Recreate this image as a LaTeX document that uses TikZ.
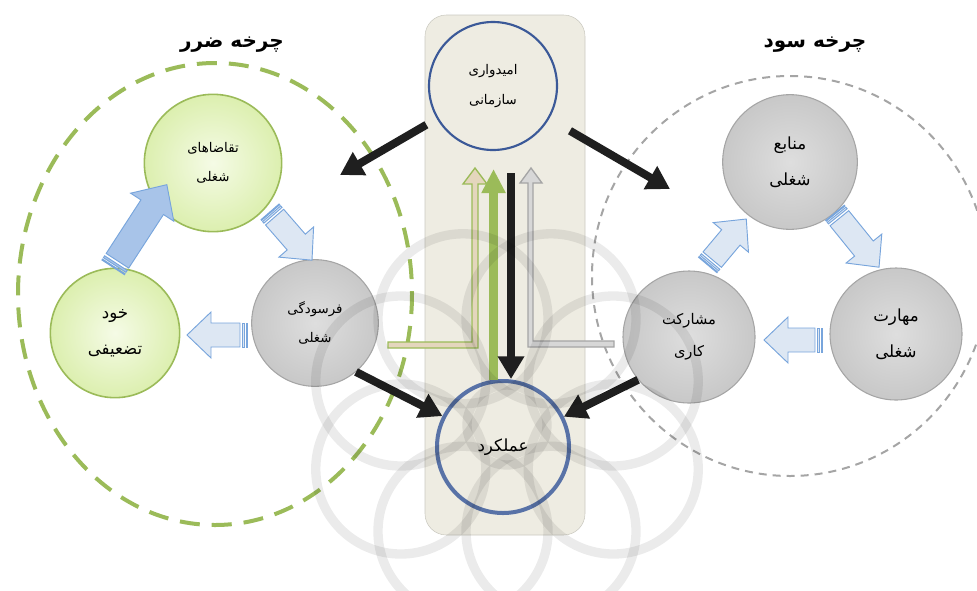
\documentclass[tikz,border=0pt]{standalone}
\usepackage{fontspec}
\usepackage{tikz}
\usetikzlibrary{arrows.meta}
\newfontfamily\farsi[Script=Arabic]{DejaVu Sans}
\TeXXeTstate=1
\newcommand{\fa}[1]{\beginR #1\endR}
\definecolor{cgreen}{RGB}{155,187,89}
\definecolor{cgreenfill}{RGB}{220,239,175}
\definecolor{cgreenlight}{RGB}{245,251,230}
\definecolor{cgrey}{RGB}{165,165,165}
\definecolor{cgreyfill}{RGB}{200,200,200}
\definecolor{cgreylight}{RGB}{222,222,222}
\definecolor{cblue}{RGB}{59,89,152}
\definecolor{cbeige}{RGB}{238,236,226}
\definecolor{cflow}{RGB}{120,165,220}
\definecolor{cflowfill}{RGB}{221,231,243}
\definecolor{cflowdark}{RGB}{168,196,233}
\tikzstyle{circ} = [circle, inner sep=0pt, align=center]
\tikzstyle{loss} = [circ, draw=cgreen, line width=1.2pt, inner color=cgreenlight, outer color=cgreenfill]
\tikzstyle{gain} = [circ, draw=cgrey, line width=0.8pt, inner color=cgreylight, outer color=cgreyfill]
\tikzstyle{core} = [circ, draw=cblue, fill=cbeige]
\tikzstyle{txtsmall} = [font=\farsi\fontsize{10}{22}\selectfont]
\tikzstyle{txtmid} = [font=\farsi\fontsize{11}{24}\selectfont]
\tikzstyle{txtbig} = [font=\farsi\fontsize{12.5}{27}\selectfont]
\tikzstyle{title} = [font=\farsi\bfseries\fontsize{15}{18}\selectfont]
\tikzstyle{blackarr} = [line width=6pt, -{Triangle[length=17pt,width=19pt]}, black!88]
\tikzstyle{greenarr} = [line width=6.5pt, -{Triangle[length=18pt,width=17pt]}, cgreen]
\tikzstyle{flowlight} = [draw=cflow, line width=0.7pt, fill=cflowfill]
\tikzstyle{flowdark} = [draw=cflow, line width=0.7pt, fill=cflowdark]
\tikzset{
  pics/flowarr/.style={code={
    \draw[pic actions](-#1/2+7,-12)--(#1/2-24,-12)--(#1/2-24,-23)--(#1/2,0)--(#1/2-24,23)--(#1/2-24,12)--(-#1/2+7,12)--cycle;
    \draw[pic actions](-#1/2+2.5,-12) rectangle (-#1/2+4.5,12);
    \draw[pic actions](-#1/2,-12) rectangle (-#1/2+1,12);
  }}
}

\begin{document}
\begin{tikzpicture}[x=0.75pt,y=-0.75pt]
    \useasboundingbox (0,0) rectangle (977,590);
    % middle column
    \draw[draw=cbeige!85!black, fill=cbeige, rounded corners=16pt] (425,15) rectangle (585,535);
    % the two cycles
    \draw[cgreen, line width=3pt, dash pattern=on 15pt off 9pt] (215,294) ellipse [x radius=197, y radius=231];
    \draw[cgrey, line width=1.5pt, dash pattern=on 6pt off 4.5pt] (790,276) ellipse [x radius=198, y radius=200];
    \node[title](tloss) at (232,45){\fa{چرخه ضرر}};
    \node[title](tgain) at (815,45){\fa{چرخه سود}};

    \node[core, line width=1.6pt, minimum size=96pt, txtsmall](hope) at (493,86){\fa{امیدواری}\\\fa{سازمانی}};
    \node[core, draw=cblue!85, line width=3pt, minimum size=99pt, txtbig](perf) at (503,447){\fa{عملکرد}};

    \node[loss, minimum size=103pt, txtsmall](demand) at (213,163){\fa{تقاضاهای}\\\fa{شغلی}};
    \node[loss, minimum size=97pt, txtbig](weak) at (115,333){\fa{خود}\\\fa{تضعیفی}};
    \node[gain, minimum size=95pt, txtsmall](burnout) at (315,323){\fa{فرسودگی}\\\fa{شغلی}};
    \node[gain, minimum size=99pt, txtmid](engage) at (689,337){\fa{مشارکت}\\\fa{کاری}};
    \node[gain, minimum size=101pt, txtbig](resource) at (790,162){\fa{منابع}\\\fa{شغلی}};
    \node[gain, minimum size=99pt, txtbig](skill) at (896,334){\fa{مهارت}\\\fa{شغلی}};

    % feedback arrows in the column
    \coordinate (lossend) at (388,345);
    \coordinate (gainend) at (614,344);
    \filldraw[draw=cgreen, fill=cbeige!80!cgreen!60!brown!60, line width=1pt]
      (lossend)++(0,-3)--(472,342)--(472,184)--(463,184)--(475,168)--(487,184)--(478,184)--(478,348)--(388,348)--cycle;
    \filldraw[draw=cgrey, fill=cgrey!45, line width=1pt]
      (gainend)++(0,-3)--(533,341)--(533,183)--(542,183)--(531,168)--(520,183)--(528,183)--(528,347)--(614,347)--cycle;
    \coordinate (greentop) at (494,169);
    \draw[greenarr] (perf.98) -- (perf.98 |- greentop);
    \coordinate (blacktop) at (511,173);
    \draw[blackarr] (blacktop) -- (blacktop |- perf.north);

    % hope feeds both cycles, both cycles feed performance
    \coordinate (losscyc) at (340,175);
    \coordinate (gaincyc) at (670,189);
    \draw[blackarr, shorten <=9pt] (hope) -- (losscyc);
    \draw[blackarr, shorten <=18pt] (hope) -- (gaincyc);
    \draw[blackarr] (burnout.-50) -- (perf);
    \draw[blackarr] (engage.-140) -- (perf);

    % block arrows inside the cycles
    \pic[flowlight, rotate=-49] at (291,236) {flowarr=64};
    \pic[flowlight, rotate=180] at (217,335) {flowarr=60};
    \pic[flowdark, rotate=57, scale=1.12] at (140,226) {flowarr=88};
    \pic[flowlight, rotate=50] at (727,242) {flowarr=60};
    \pic[flowlight, rotate=-51] at (857,240) {flowarr=70};
    \pic[flowlight, rotate=180] at (793,340) {flowarr=58};

    % watermark
    \begin{scope}[black, opacity=0.08, line width=7pt]
      \foreach \a in {0,45,...,315}
        \draw (507,425) ++(\a+22.5:115) circle [radius=85];
      \draw (507,425) circle [radius=40];
    \end{scope}
\end{tikzpicture}
\end{document}
